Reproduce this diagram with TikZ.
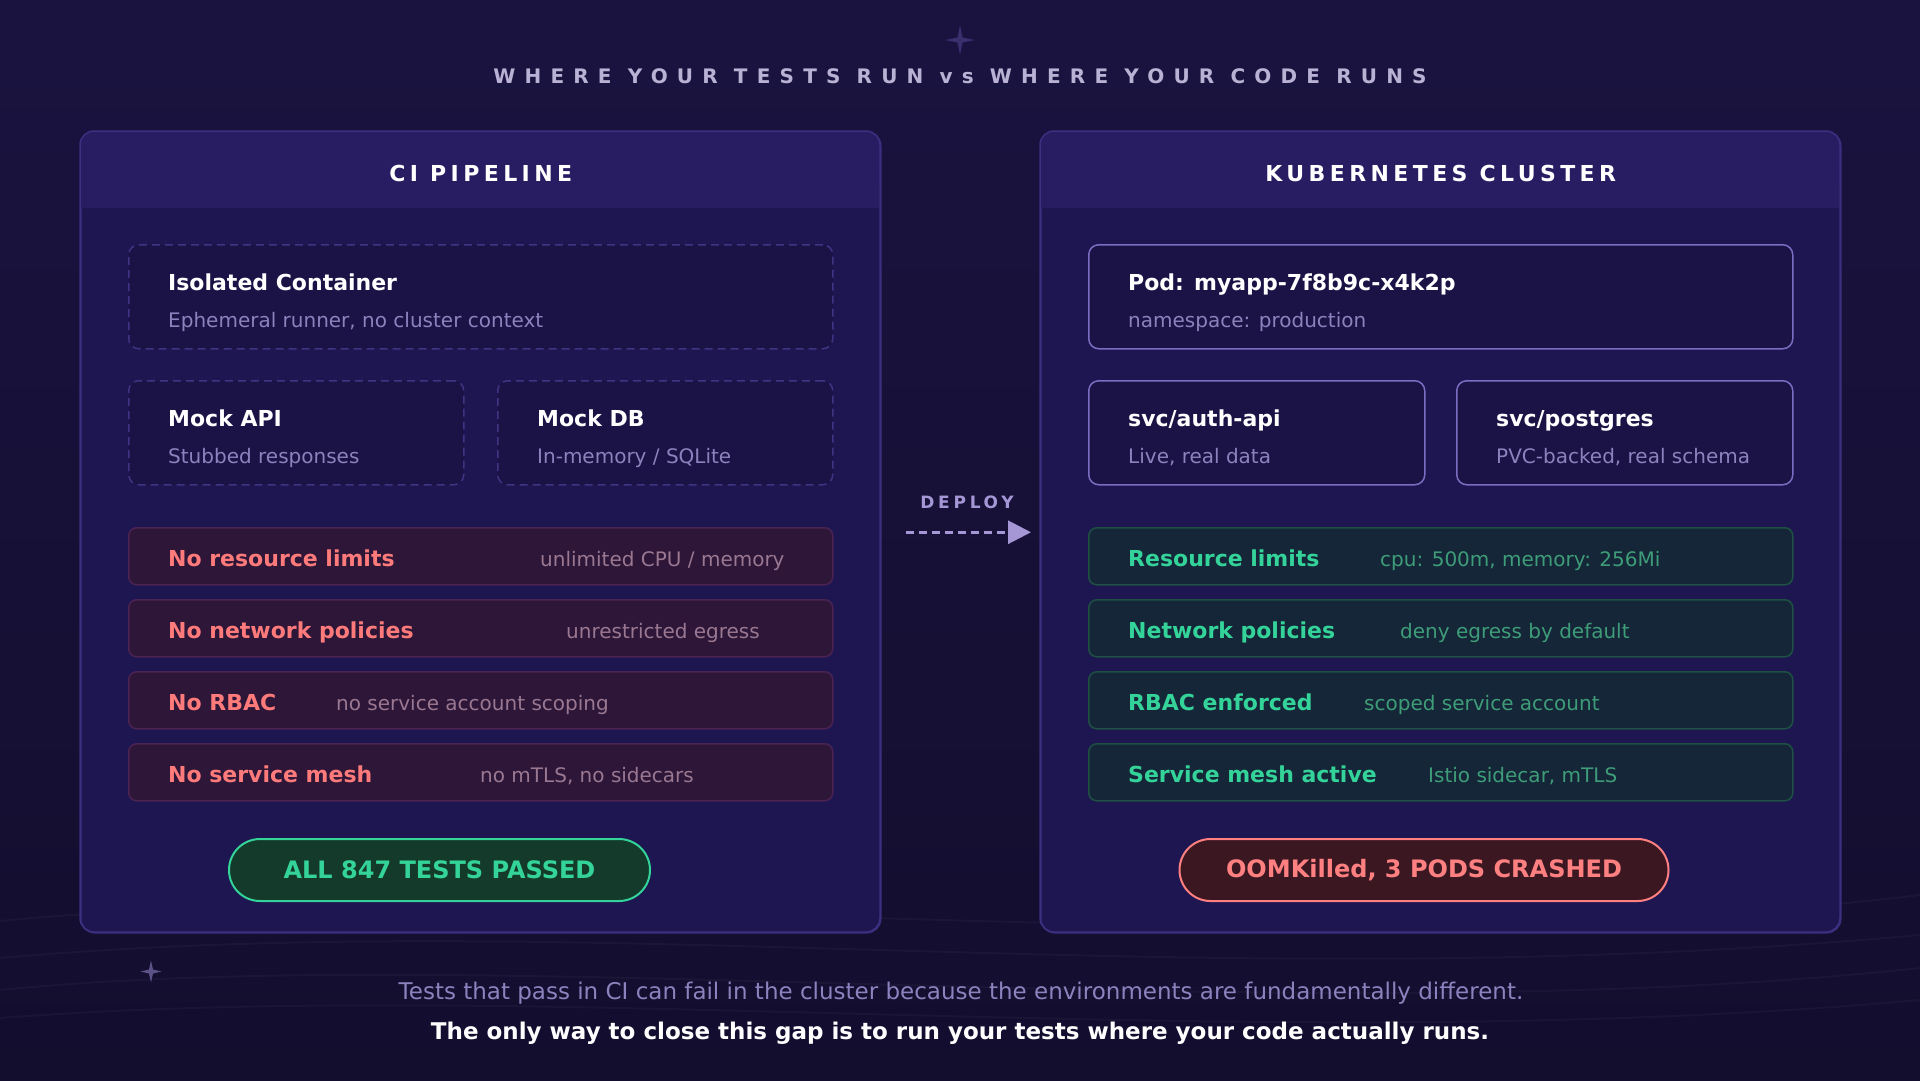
\documentclass[tikz,border=0pt]{standalone}
\usepackage{fontspec}
\setmainfont{DejaVu Sans}
\usetikzlibrary{arrows.meta}

\definecolor{bgtop}{HTML}{1A1340}
\definecolor{bgbot}{HTML}{130E2E}
\definecolor{panelbody}{HTML}{1E1650}
\definecolor{panelhead}{HTML}{281C62}
\definecolor{panelline}{HTML}{3C2F80}
\definecolor{boxfill}{HTML}{1B1245}
\definecolor{mockline}{HTML}{3E3483}
\definecolor{liveline}{HTML}{7B6DC2}
\definecolor{subtext}{HTML}{8C82BE}
\definecolor{badfill}{HTML}{2D1637}
\definecolor{badline}{HTML}{4B2352}
\definecolor{badtext}{HTML}{FF7B7B}
\definecolor{baddetail}{HTML}{9A7892}
\definecolor{goodfill}{HTML}{142638}
\definecolor{goodline}{HTML}{1E5043}
\definecolor{goodtext}{HTML}{34D399}
\definecolor{gooddetail}{HTML}{3E9D78}
\definecolor{passfill}{HTML}{133A2A}
\definecolor{crashfill}{HTML}{3B1722}
\definecolor{crashline}{HTML}{FF8080}
\definecolor{deploycol}{HTML}{A596D6}
\definecolor{titlecol}{HTML}{B9B2D4}
\definecolor{sparkcol}{HTML}{3A2F6E}

\tikzset{
  panel/.style={draw=panelline, line width=1.5pt, fill=panelbody, rounded corners=14pt,
    inner sep=0pt, minimum width=800pt, minimum height=801pt, anchor=north west},
  paneltitle/.style={anchor=base, inner sep=0pt, white, font=\fontsize{22}{26}\selectfont\bfseries\addfontfeatures{LetterSpace=20}},
  mockbox/.style={draw=mockline, line width=1.5pt, dash pattern=on 8pt off 5pt, fill=boxfill,
    rounded corners=10pt, inner sep=0pt, minimum height=104pt, anchor=north west},
  livebox/.style={mockbox, solid, draw=liveline},
  boxtitle/.style={anchor=base west, inner sep=0pt, white, font=\fontsize{22}{26}\selectfont\bfseries},
  boxsub/.style={anchor=base west, inner sep=0pt, subtext, font=\fontsize{20}{24}\selectfont},
  badrow/.style={draw=badline, line width=1.5pt, fill=badfill, rounded corners=8pt, inner sep=0pt,
    minimum width=704pt, minimum height=57pt, anchor=north west},
  goodrow/.style={badrow, draw=goodline, fill=goodfill},
  badlabel/.style={anchor=base west, inner sep=0pt, badtext, font=\fontsize{22}{26}\selectfont\bfseries},
  baddet/.style={anchor=base west, inner sep=0pt, baddetail, font=\fontsize{20}{24}\selectfont},
  goodlabel/.style={badlabel, goodtext},
  gooddet/.style={baddet, gooddetail},
  pill/.style={line width=2pt, rounded corners=31pt, minimum height=62pt, inner sep=0pt,
    font=\fontsize{24}{28}\selectfont\bfseries},
  wave/.style={line width=2pt, draw=white, opacity=0.03}
}

\begin{document}
\begin{tikzpicture}[x=1pt, y=1pt]
\useasboundingbox (0,0) rectangle (1920,-1080);
\shade[top color=bgtop, bottom color=bgbot] (0,0) rectangle (1920,-1080);

% faint background waves
\draw[wave] (0,-921) .. controls (520,-870) and (1250,-975) .. (1920,-895);
\draw[wave] (0,-958) .. controls (600,-905) and (1200,-1000) .. (1920,-935);
\draw[wave] (0,-990) .. controls (500,-940) and (1300,-1035) .. (1920,-968);
\draw[wave] (0,-1018) .. controls (560,-975) and (1250,-1060) .. (1920,-1000);

% sparkles
\fill[sparkcol] (960,-25) -- (962.5,-37.5) -- (975,-40) -- (962.5,-42.5) -- (960,-55)
  -- (957.5,-42.5) -- (945,-40) -- (957.5,-37.5) -- cycle;
\fill[sparkcol!80!white!85!sparkcol] (151,-960.5) -- (153,-969.5) -- (161.5,-971.5) -- (153,-973.5) -- (151,-982.5)
  -- (149,-973.5) -- (140.5,-971.5) -- (149,-969.5) -- cycle;

\node[anchor=base, inner sep=0pt, titlecol, font=\fontsize{20}{24}\selectfont\bfseries\addfontfeatures{LetterSpace=46}]
  (title) at (960,-83.5) {WHERE YOUR TESTS RUN vs WHERE YOUR CODE RUNS};

% left panel: CI
\node[panel] (cipanel) at (80,-131) {};
\fill[panelhead] (80.75,-208) -- (80.75,-145) arc[start angle=180, end angle=90, radius=14]
  -- (866,-131.75) arc[start angle=90, end angle=0, radius=14] -- (879.25,-208) -- cycle;
\draw[panelline, line width=1.5pt, rounded corners=14pt] (80,-131) rectangle (880,-932);
\node[paneltitle] (cititle) at ([yshift=-50pt]cipanel.north) {CI PIPELINE};

\node[mockbox, minimum width=704pt] (iso) at (128,-244) {};
\node[boxtitle] (isoT) at ([xshift=40pt,yshift=-46pt]iso.north west) {Isolated Container};
\node[boxsub] (isoS) at ([xshift=40pt,yshift=-83pt]iso.north west) {Ephemeral runner, no cluster context};
\node[mockbox, minimum width=335pt] (mockapi) at (128,-380) {};
\node[boxtitle] (mockapiT) at ([xshift=40pt,yshift=-46pt]mockapi.north west) {Mock API};
\node[boxsub] (mockapiS) at ([xshift=40pt,yshift=-83pt]mockapi.north west) {Stubbed responses};
\node[mockbox, minimum width=335pt] (mockdb) at (497,-380) {};
\node[boxtitle] (mockdbT) at ([xshift=40pt,yshift=-46pt]mockdb.north west) {Mock DB};
\node[boxsub] (mockdbS) at ([xshift=40pt,yshift=-83pt]mockdb.north west) {In-memory / SQLite};

\node[badrow] (nolimits) at (128,-527) {};
\node[badlabel] at ([xshift=40pt,yshift=-39pt]nolimits.north west) {No resource limits};
\node[baddet] at ([xshift=412pt,yshift=-39pt]nolimits.north west) {unlimited CPU / memory};
\node[badrow] (nonetpol) at (128,-599) {};
\node[badlabel] at ([xshift=40pt,yshift=-39pt]nonetpol.north west) {No network policies};
\node[baddet] at ([xshift=438pt,yshift=-39pt]nonetpol.north west) {unrestricted egress};
\node[badrow] (norbac) at (128,-671) {};
\node[badlabel] at ([xshift=40pt,yshift=-39pt]norbac.north west) {No RBAC};
\node[baddet] at ([xshift=208pt,yshift=-39pt]norbac.north west) {no service account scoping};
\node[badrow] (nomesh) at (128,-743) {};
\node[badlabel] at ([xshift=40pt,yshift=-39pt]nomesh.north west) {No service mesh};
\node[baddet] at ([xshift=352pt,yshift=-39pt]nomesh.north west) {no mTLS, no sidecars};

\node[pill, draw=goodtext, fill=passfill, text=goodtext, minimum width=421pt] (passed) at (439.5,-870) {ALL 847 TESTS PASSED};

% right panel: cluster
\node[panel] (k8spanel) at (1040,-131) {};
\fill[panelhead] (1040.75,-208) -- (1040.75,-145) arc[start angle=180, end angle=90, radius=14]
  -- (1826,-131.75) arc[start angle=90, end angle=0, radius=14] -- (1839.25,-208) -- cycle;
\draw[panelline, line width=1.5pt, rounded corners=14pt] (1040,-131) rectangle (1840,-932);
\node[paneltitle] (k8stitle) at ([yshift=-50pt]k8spanel.north) {KUBERNETES CLUSTER};

\node[livebox, minimum width=704pt] (pod) at (1088,-244) {};
\node[boxtitle] (podT) at ([xshift=40pt,yshift=-46pt]pod.north west) {Pod: myapp-7f8b9c-x4k2p};
\node[boxsub] (podS) at ([xshift=40pt,yshift=-83pt]pod.north west) {namespace: production};
\node[livebox, minimum width=336pt] (authapi) at (1088,-380) {};
\node[boxtitle] (authapiT) at ([xshift=40pt,yshift=-46pt]authapi.north west) {svc/auth-api};
\node[boxsub] (authapiS) at ([xshift=40pt,yshift=-83pt]authapi.north west) {Live, real data};
\node[livebox, minimum width=336pt] (postgres) at (1456,-380) {};
\node[boxtitle] (postgresT) at ([xshift=40pt,yshift=-46pt]postgres.north west) {svc/postgres};
\node[boxsub] (postgresS) at ([xshift=40pt,yshift=-83pt]postgres.north west) {PVC-backed, real schema};

\node[goodrow] (limits) at (1088,-527) {};
\node[goodlabel] at ([xshift=40pt,yshift=-39pt]limits.north west) {Resource limits};
\node[gooddet] at ([xshift=292pt,yshift=-39pt]limits.north west) {cpu: 500m, memory: 256Mi};
\node[goodrow] (netpol) at (1088,-599) {};
\node[goodlabel] at ([xshift=40pt,yshift=-39pt]netpol.north west) {Network policies};
\node[gooddet] at ([xshift=312pt,yshift=-39pt]netpol.north west) {deny egress by default};
\node[goodrow] (rbac) at (1088,-671) {};
\node[goodlabel] at ([xshift=40pt,yshift=-39pt]rbac.north west) {RBAC enforced};
\node[gooddet] at ([xshift=276pt,yshift=-39pt]rbac.north west) {scoped service account};
\node[goodrow] (mesh) at (1088,-743) {};
\node[goodlabel] at ([xshift=40pt,yshift=-39pt]mesh.north west) {Service mesh active};
\node[gooddet] at ([xshift=340pt,yshift=-39pt]mesh.north west) {Istio sidecar, mTLS};

\node[pill, draw=crashline, fill=crashfill, text=crashline, minimum width=489pt] (crashed) at (1424,-870) {OOMKilled, 3 PODS CRASHED};

% deploy arrow
\node[anchor=base, inner sep=0pt, deploycol, font=\fontsize{17}{20}\selectfont\bfseries\addfontfeatures{LetterSpace=22}]
  (deploy) at (967,-508) {DEPLOY};
\draw[deploycol, line width=3pt, dash pattern=on 8pt off 5pt, -{Triangle[length=23pt, width=23pt]}]
  ([xshift=24pt]cipanel.east) -- ([xshift=-9pt]k8spanel.west);

% footer
\node[anchor=base, inner sep=0pt, subtext, font=\fontsize{23}{27}\selectfont] (note) at (961,-999.5)
  {Tests that pass in CI can fail in the cluster because the environments are fundamentally different.};
\node[anchor=base, inner sep=0pt, white, font=\fontsize{23}{27}\selectfont\bfseries] (moral) at (960,-1039.5)
  {The only way to close this gap is to run your tests where your code actually runs.};
\end{tikzpicture}
\end{document}
